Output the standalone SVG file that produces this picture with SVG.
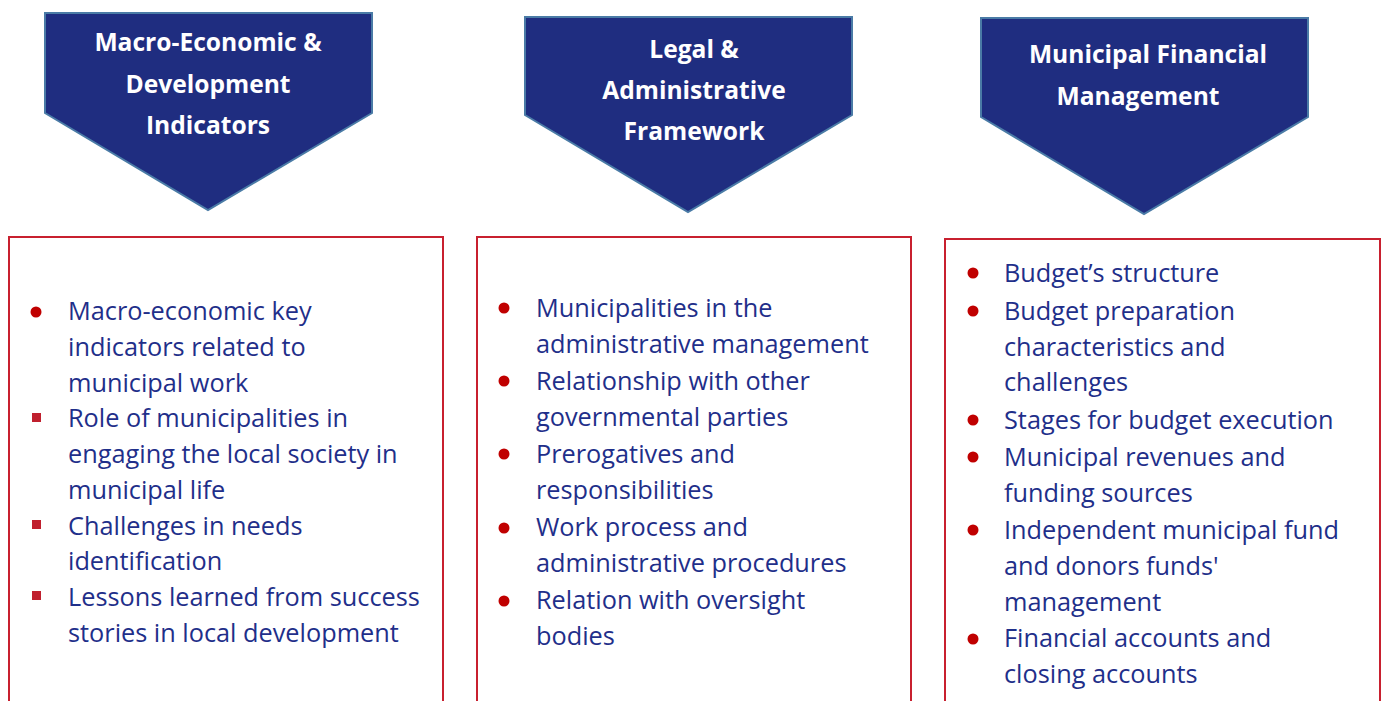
<svg xmlns="http://www.w3.org/2000/svg" width="1383" height="701" viewBox="0 0 1383 701">
<style>
.head{fill:#1f2d80;stroke:#4a7ba6;stroke-width:2}
.ht{font-family:"Open Sans","Noto Sans",sans-serif;font-weight:bold;font-size:24.6px;fill:#ffffff;text-anchor:middle}
.box{fill:#ffffff;stroke:#c8202f;stroke-width:2}
.bt{font-family:"Open Sans","Noto Sans",sans-serif;font-size:25.3px;fill:#1f2f8a}
.dot{fill:#c00000}
.sq{fill:#c0202e}
</style>
<rect width="1383" height="701" fill="#ffffff"/>
<g id="head1">
<polygon class="head" points="45,13 372,13 372,113 208,210 45,113"/>
<text class="ht" x="208" y="51">Macro-Economic &amp;</text>
<text class="ht" x="208" y="93">Development</text>
<text class="ht" x="208" y="134">Indicators</text>
</g>
<g id="head2">
<polygon class="head" points="525,17 852,17 852,115 688,212 525,115"/>
<text class="ht" x="694" y="58">Legal &amp;</text>
<text class="ht" x="694" y="99">Administrative</text>
<text class="ht" x="694" y="140">Framework</text>
</g>
<g id="head3">
<polygon class="head" points="981,18 1308,18 1308,117 1144,214 981,117"/>
<text class="ht" x="1148" y="63">Municipal Financial</text>
<text class="ht" x="1138" y="105">Management</text>
</g>
<g id="box1">
<rect class="box" x="9" y="237" width="434" height="480"/>
<circle class="dot" cx="36" cy="312" r="5.5"/>
<rect class="sq" x="32" y="413" width="9" height="9"/>
<rect class="sq" x="32" y="520" width="9" height="9"/>
<rect class="sq" x="32" y="591" width="9" height="9"/>
<text class="bt" x="68" y="320">Macro-economic key</text>
<text class="bt" x="68" y="356">indicators related to</text>
<text class="bt" x="68" y="392">municipal work</text>
<text class="bt" x="68" y="427">Role of municipalities in</text>
<text class="bt" x="68" y="463">engaging the local society in</text>
<text class="bt" x="68" y="499">municipal life</text>
<text class="bt" x="68" y="535">Challenges in needs</text>
<text class="bt" x="68" y="570">identification</text>
<text class="bt" x="68" y="606">Lessons learned from success</text>
<text class="bt" x="68" y="642">stories in local development</text>
</g>
<g id="box2">
<rect class="box" x="477" y="237" width="434" height="480"/>
<circle class="dot" cx="504" cy="308" r="5.5"/>
<circle class="dot" cx="504" cy="381" r="5.5"/>
<circle class="dot" cx="504" cy="454" r="5.5"/>
<circle class="dot" cx="504" cy="528" r="5.5"/>
<circle class="dot" cx="504" cy="601" r="5.5"/>
<text class="bt" x="536" y="317">Municipalities in the</text>
<text class="bt" x="536" y="353">administrative management</text>
<text class="bt" x="536" y="390">Relationship with other</text>
<text class="bt" x="536" y="426">governmental parties</text>
<text class="bt" x="536" y="463">Prerogatives and</text>
<text class="bt" x="536" y="499">responsibilities</text>
<text class="bt" x="536" y="536">Work process and</text>
<text class="bt" x="536" y="572">administrative procedures</text>
<text class="bt" x="536" y="609">Relation with oversight</text>
<text class="bt" x="536" y="645">bodies</text>
</g>
<g id="box3">
<rect class="box" x="945" y="239" width="435" height="480"/>
<circle class="dot" cx="973" cy="273" r="5.5"/>
<circle class="dot" cx="973" cy="311" r="5.5"/>
<circle class="dot" cx="973" cy="420" r="5.5"/>
<circle class="dot" cx="973" cy="457" r="5.5"/>
<circle class="dot" cx="973" cy="530" r="5.5"/>
<circle class="dot" cx="973" cy="639" r="5.5"/>
<text class="bt" x="1004" y="282">Budget’s structure</text>
<text class="bt" x="1004" y="320">Budget preparation</text>
<text class="bt" x="1004" y="356">characteristics and</text>
<text class="bt" x="1004" y="391">challenges</text>
<text class="bt" x="1004" y="429">Stages for budget execution</text>
<text class="bt" x="1004" y="466">Municipal revenues and</text>
<text class="bt" x="1004" y="502">funding sources</text>
<text class="bt" x="1004" y="539">Independent municipal fund</text>
<text class="bt" x="1004" y="575">and donors funds'</text>
<text class="bt" x="1004" y="611">management</text>
<text class="bt" x="1004" y="647">Financial accounts and</text>
<text class="bt" x="1004" y="683">closing accounts</text>
</g>
</svg>
